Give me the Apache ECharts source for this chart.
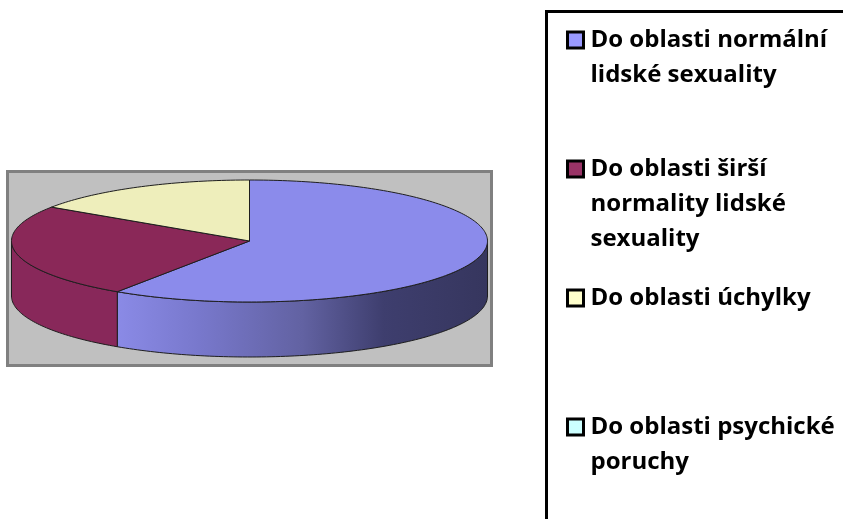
<!DOCTYPE html>
<html>
<head>
<meta charset="utf-8">
<script src="https://cdn.jsdelivr.net/npm/echarts@6/dist/echarts.min.js"></script>
<style>
    html, body { margin: 0; padding: 0; background: #fff; }
    #main { width: 843px; height: 519px; }
</style>
</head>
<body>
<div id="main"></div>
<script>
// data
const categories = [
    'Do oblasti normální lidské sexuality',
    'Do oblasti širší normality lidské sexuality',
    'Do oblasti úchylky',
    'Do oblasti psychické poruchy'
];
const legendLines = [
    ['Do oblasti normální', 'lidské sexuality'],
    ['Do oblasti širší', 'normality lidské', 'sexuality'],
    ['Do oblasti úchylky'],
    ['Do oblasti psychické', 'poruchy']
];
const values = [38, 16, 10, 0];

const legendColors = ['#9999ff', '#993366', '#ffffcc', '#ccffff'];
const topColors = ['#8b8beb', '#8a2858', '#eeeebb', '#bbeeee'];
const sideColors = [null, '#88285a', '#dddda8', '#aadddd'];

// pie geometry (px)
const CX = 249.5, CY = 241, RX = 238, RY = 61, DEPTH = 55;
const LINE = 35;

function arcPoints(a, b, dy) {
    const pts = [];
    const steps = Math.max(2, Math.ceil((b - a) / 0.02));
    for (let k = 0; k <= steps; k++) {
        const t = a + (b - a) * k / steps;
        pts.push([CX + RX * Math.sin(t), CY - RY * Math.cos(t) + dy]);
    }
    return pts;
}

function sideFill(i) {
    if (i === 0) {
        // lighting across the front wall, light on the left, dark on the right
        return new echarts.graphic.LinearGradient(118, 0, 487, 0, [
            { offset: 0, color: '#8a8ae6' },
            { offset: 0.22, color: '#7878cc' },
            { offset: 0.5, color: '#6262a2' },
            { offset: 0.72, color: '#3e3e6e' },
            { offset: 1, color: '#36365e' }
        ], true);
    }
    return sideColors[i];
}

function renderSlice(params, api) {
    const i = params.seriesIndex;
    const v = api.value(0);
    const total = values.reduce((s, x) => s + x, 0);
    if (!v) return { type: 'group', children: [] };
    let before = 0;
    for (let k = 0; k < i; k++) before += values[k];
    const s = before / total * 2 * Math.PI;
    const e = (before + v) / total * 2 * Math.PI;
    const children = [];
    const a = Math.max(s, Math.PI / 2), b = Math.min(e, 3 * Math.PI / 2);
    if (a < b) {
        const pts = arcPoints(a, b, 0).concat(arcPoints(a, b, DEPTH).reverse());
        children.push({
            type: 'polygon', z2: 1,
            shape: { points: pts },
            style: { fill: sideFill(i), stroke: '#1e1e1e', lineWidth: 1 }
        });
    }
    children.push({
        type: 'polygon', z2: 5,
        shape: { points: [[CX, CY]].concat(arcPoints(s, e, 0)) },
        style: { fill: topColors[i], stroke: '#1e1e1e', lineWidth: 1 }
    });
    return { type: 'group', children: children };
}

const chart = echarts.init(document.getElementById('main'));

const legends = categories.map(function (name, i) {
    const n = legendLines[i].length;
    const blank = new Array(n - 1).fill('');
    const h = (2 * n - 1) * LINE;
    return {
        data: [name],
        orient: 'vertical',
        left: 566,
        top: 40 + i * 129 - h / 2,
        padding: 0,
        itemGap: 0,
        itemWidth: 16,
        itemHeight: 16,
        icon: 'rect',
        selectedMode: false,
        itemStyle: { borderColor: '#000', borderWidth: 3 },
        formatter: function () {
            return blank.concat(legendLines[i]).join('\n');
        },
        textStyle: {
            fontFamily: 'Open Sans',
            fontWeight: 'bold',
            fontSize: 24,
            lineHeight: LINE,
            padding: [0, 0, 0, 2],
            color: '#000'
        }
    };
});

const option = {
    animation: false,
    graphic: [
        {
            type: 'rect', z: -10,
            shape: { x: 7.5, y: 171.5, width: 484, height: 194 },
            style: { fill: '#c0c0c0', stroke: '#808080', lineWidth: 3 }
        },
        {
            type: 'rect', z: -10,
            shape: { x: 546.5, y: 11.5, width: 400, height: 600 },
            style: { fill: 'none', stroke: '#000', lineWidth: 3 }
        }
    ],
    legend: legends,
    series: categories.map(function (name, i) {
        return {
            type: 'custom',
            name: name,
            coordinateSystem: 'none',
            silent: true,
            itemStyle: { color: legendColors[i] },
            renderItem: renderSlice,
            data: [[values[i]]]
        };
    })
};

chart.setOption(option);
</script>
</body>
</html>
